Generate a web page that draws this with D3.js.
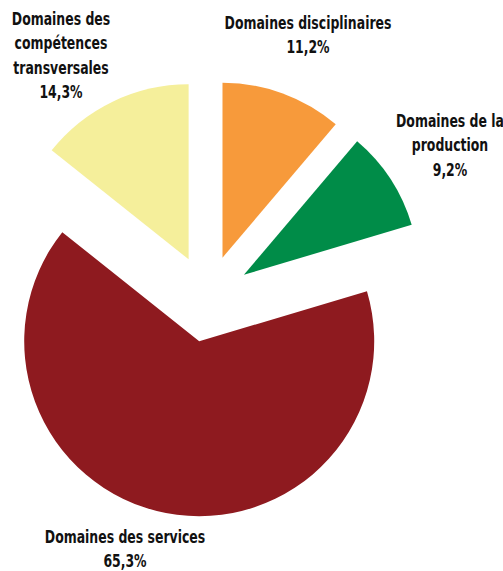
<!DOCTYPE html>
<html><head><meta charset="utf-8">
<script src="https://cdn.jsdelivr.net/npm/d3@7"></script>
<style>
html,body{margin:0;padding:0;background:#fff;}
text{font-family:"Liberation Sans Narrow","Arial Narrow","DejaVu Sans Condensed",sans-serif;font-weight:bold;font-size:17.5px;fill:#111;}
</style></head>
<body><svg id="c" width="503" height="571"></svg>
<script>
const categories = ["Domaines disciplinaires","Domaines de la production","Domaines des services","Domaines des compétences transversales"];
const values = [11.2, 9.2, 65.3, 14.3];
const valueLabels = ["11,2%","9,2%","65,3%","14,3%"];
const colors = ["#F79A3B","#008C48","#8E1A1F","#F5EF9B"];
const labelLines = [["Domaines disciplinaires","11,2%"],["Domaines de la","production","9,2%"],["Domaines des services","65,3%"],["Domaines des","compétences","transversales","14,3%"]];
const labelPos = [[308,29],[450,127],[125,543],[61,25]];

const svg = d3.select("#c");
const cx = 207.5, cy = 298.5, R = 175, explode = 43.5;
const pie = d3.pie().sort(null).value(d=>d)(values);
const arc = d3.arc().innerRadius(0).outerRadius(R);
const g = svg.append("g").attr("transform",`translate(${cx},${cy})`);
g.selectAll("path").data(pie).join("path")
 .attr("d",arc)
 .attr("fill",(d,i)=>colors[i])
 .attr("transform",d=>{const a=(d.startAngle+d.endAngle)/2;return `translate(${explode*Math.sin(a)},${-explode*Math.cos(a)})`;});

// measure to fit a narrow bold face
const probe = svg.append("text").text("Domaines disciplinaires");
const sx = Math.min(1, 167 / probe.node().getComputedTextLength());
probe.remove();

labelLines.forEach((lines,i)=>{
  const [x,y] = labelPos[i];
  const grp = svg.append("g").attr("transform",`translate(${x},0) scale(${sx},1)`);
  const t = grp.append("text").attr("text-anchor","middle");
  lines.forEach((l,j)=>{ t.append("tspan").attr("x",0).attr("y",y+j*24.5).text(l); });
});
</script></body></html>
